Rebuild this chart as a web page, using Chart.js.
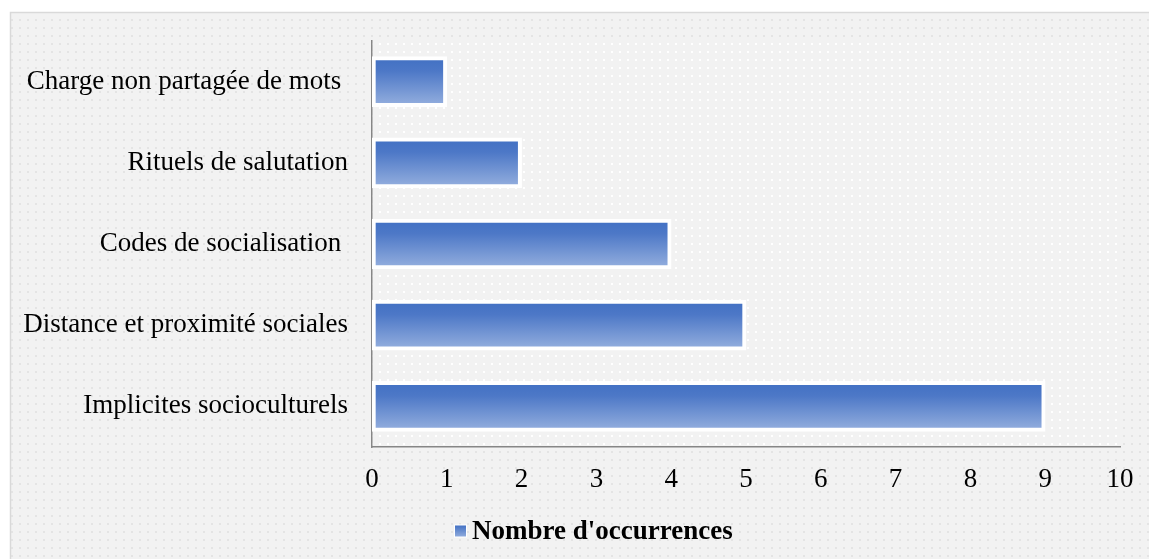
<!DOCTYPE html>
<html><head><meta charset="utf-8">
<script src="https://cdn.jsdelivr.net/npm/chart.js@4/dist/chart.umd.min.js"></script>
<style>html,body{margin:0;padding:0;background:#fff}#wrap{width:1149px;height:559px}</style>
</head><body><div id="wrap"><canvas id="c" width="1149" height="559"></canvas></div>
<script>
const categories = ["Charge non partagée de mots ", "Rituels de salutation", "Codes de socialisation ", "Distance et proximité sociales", "Implicites socioculturels"];
const occurrences = [1, 2, 4, 5, 9];
const xTicks = [0,1,2,3,4,5,6,7,8,9,10];
const seriesName = "Nombre d'occurrences";

function dotPattern(ctx, bg, dot) {
  const p = document.createElement('canvas');
  p.width = 8; p.height = 8;
  const c = p.getContext('2d');
  c.fillStyle = bg; c.fillRect(0,0,8,8);
  c.fillStyle = dot; c.fillRect(3,3,2,2);
  return ctx.createPattern(p, 'repeat');
}

const bgPlugin = {
  id: 'bgPlugin',
  beforeDraw(chart) {
    const ctx = chart.ctx, a = chart.chartArea;
    ctx.save();
    ctx.fillStyle = '#ffffff';
    ctx.fillRect(0,0,chart.width,chart.height);
    ctx.fillStyle = dotPattern(ctx, '#f2f2f2', '#e4e4e4');
    ctx.fillRect(10,12,chart.width-10,chart.height-12);
    ctx.strokeStyle = '#d9d9d9'; ctx.lineWidth = 1.5;
    ctx.beginPath(); ctx.moveTo(10.5, chart.height); ctx.lineTo(10.5,12.5); ctx.lineTo(chart.width,12.5); ctx.stroke();
    ctx.fillStyle = dotPattern(ctx, '#f2f2f2', '#ffffff');
    ctx.fillRect(a.left, a.top, a.right-a.left, a.bottom-a.top);
    ctx.restore();
  }
};

const legendPlugin = {
  id: 'customLegend',
  afterDraw(chart) {
    const ctx = chart.ctx;
    const a = chart.chartArea;
    const y = a.bottom + 84;
    ctx.save();
    ctx.font = 'bold 27px "Liberation Serif"';
    const x0 = 455;
    ctx.fillStyle = '#ffffff';
    ctx.fillRect(x0 - 1, y - 6.5, 13, 13);
    const g = ctx.createLinearGradient(0, y - 5.5, 0, y + 5.5);
    g.addColorStop(0, '#4472c4'); g.addColorStop(1, '#8eaadc');
    ctx.fillStyle = g;
    ctx.fillRect(x0, y - 5.5, 11, 11);
    ctx.fillStyle = '#000';
    ctx.textBaseline = 'middle';
    ctx.textAlign = 'left';
    ctx.fillText(seriesName, x0 + 17, y + 1);
    ctx.restore();
  }
};

function barGradient(context) {
  const chart = context.chart;
  const ys = chart.scales.y;
  if (!ys || !chart.chartArea) return '#5b7fcb';
  const yc = ys.getPixelForValue(context.dataIndex);
  const g = chart.ctx.createLinearGradient(0, yc-21, 0, yc+21);
  g.addColorStop(0, '#4472c4');
  g.addColorStop(0.25, '#4d78c7');
  g.addColorStop(1, '#8eaadc');
  return g;
}

new Chart(document.getElementById('c'), {
  type: 'bar',
  data: {
    labels: categories,
    datasets: [{
      label: seriesName,
      data: occurrences,
      backgroundColor: barGradient,
      borderColor: '#ffffff',
      borderWidth: 4,
      borderSkipped: false,
      barThickness: 50
    }]
  },
  options: {
    indexAxis: 'y',
    responsive: false,
    animation: false,
    layout: { padding: { top: 41, right: 29, left: 0, bottom: 52 } },
    scales: {
      x: {
        min: 0, max: 10,
        afterBuildTicks(s) { s.ticks = xTicks.map(v => ({value: v})); },
        grid: { display: false, drawTicks: false },
        border: { display: true, color: '#868686', width: 1.5 },
        ticks: { color: '#000', padding: 17, font: { family: 'Liberation Serif', size: 27 } },
        afterFit(s) { s.height = 60; s.paddingLeft = 0; s.paddingRight = 0; }
      },
      y: {
        grid: { display: false, drawTicks: false },
        border: { display: true, color: '#868686', width: 1.5 },
        ticks: { color: '#000', padding: 24, font: { family: 'Liberation Serif', size: 27 } },
        afterFit(s) { s.width = 372; }
      }
    },
    plugins: {
      legend: { display: false },
      tooltip: { enabled: false }
    }
  },
  plugins: [bgPlugin, legendPlugin]
});
</script>
</body></html>
